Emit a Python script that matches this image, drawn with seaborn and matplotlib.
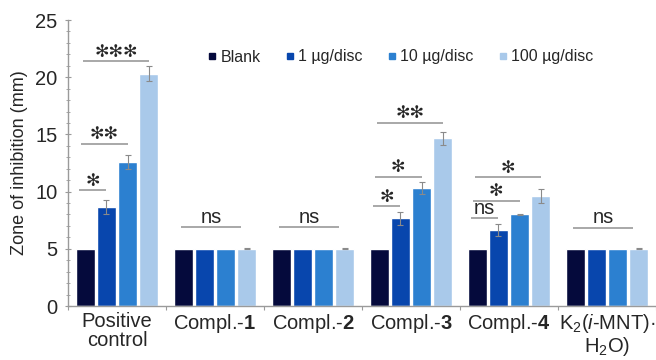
import numpy as np
import pandas as pd
import matplotlib
matplotlib.use("Agg")
import matplotlib.pyplot as plt
from matplotlib.ticker import MultipleLocator
from matplotlib.lines import Line2D
import seaborn as sns

# ---- data -------------------------------------------------------------
groups = ["Positive\ncontrol", r"Compl.-$\mathbf{1}$", r"Compl.-$\mathbf{2}$",
          r"Compl.-$\mathbf{3}$", r"Compl.-$\mathbf{4}$", "K$_2$($i$-MNT)·\nH$_2$O)"]
doses = ["Blank", "1 µg/disc", "10 µg/disc", "100 µg/disc"]

blank = [5.0, 5.0, 5.0, 5.0, 5.0, 5.0]
ug1 = [8.68, 5.0, 5.0, 7.66, 6.64, 5.0]
ug10 = [12.6, 5.0, 5.0, 10.3, 8.0, 5.0]
ug100 = [20.3, 5.0, 5.0, 14.66, 9.64, 5.0]

err_blank = [0.0, 0.0, 0.0, 0.0, 0.0, 0.0]
err_ug1 = [0.6, 0.0, 0.0, 0.55, 0.5, 0.0]
err_ug10 = [0.6, 0.0, 0.0, 0.55, 0.05, 0.0]
err_ug100 = [0.65, 0.05, 0.05, 0.55, 0.6, 0.05]

# significance brackets: group index, dose index compared with blank, label, height
sig_group = [0, 0, 0, 1, 2, 3, 3, 3, 4, 4, 4, 5]
sig_dose = [1, 2, 3, None, None, 1, 2, 3, 1, 2, 3, None]
sig_label = ["*", "**", "***", "ns", "ns", "*", "*", "**", "ns", "*", "*", "ns"]
sig_height = [10.1, 14.2, 21.4, 6.9, 6.9, 8.7, 11.3, 16.0, 7.7, 9.2, 11.25, 6.85]

palette = ["#050a3c", "#0846ad", "#2c80d0", "#a9c9ea"]

# ---- styling ----------------------------------------------------------
sns.set_style("white")
plt.rcParams["font.family"] = ["Liberation Sans", "DejaVu Sans"]
plt.rcParams["mathtext.fontset"] = "custom"
plt.rcParams["mathtext.rm"] = "Liberation Sans"
plt.rcParams["mathtext.it"] = "Liberation Sans:italic"
plt.rcParams["mathtext.bf"] = "Liberation Sans:bold"

df = pd.DataFrame({
    "group": np.repeat(groups, len(doses)),
    "dose": doses * len(groups),
    "value": np.column_stack([blank, ug1, ug10, ug100]).ravel(),
})
errs = np.column_stack([err_blank, err_ug1, err_ug10, err_ug100])

fig = plt.figure(figsize=(6.56, 3.6), dpi=100)
ax = fig.add_axes([68 / 656, 1 - 306 / 360, 588 / 656, 286 / 360])

sns.barplot(data=df, x="group", y="value", hue="dose", order=groups,
            hue_order=doses, palette=palette, width=0.86, gap=0.08,
            errorbar=None, saturation=1, ax=ax, legend=False)
bars = list(ax.containers)

# error bars placed on the drawn bars
for j, cont in enumerate(bars):
    for i, bar in enumerate(cont):
        e = errs[i, j]
        if e > 0:
            cx = bar.get_x() + bar.get_width() / 2
            ax.errorbar(cx, bar.get_height(), yerr=e, color="#8a8a8a",
                        lw=0.8, capsize=2, capthick=0.8, zorder=3)

# significance brackets
for g, d, lab, h in zip(sig_group, sig_dose, sig_label, sig_height):
    b0 = bars[0][g]
    w = b0.get_width()
    if d is None:
        x0 = b0.get_x() + 0.4 * w
        b3 = bars[3][g]
        x1 = b3.get_x() + 0.2 * w
    else:
        bt = bars[d][g]
        x0 = b0.get_x() + 0.15 * w + 0.12 * w * (d - 1)
        x1 = bt.get_x() + bt.get_width() / 2
    ax.plot([x0, x1], [h, h], color="#9a9a9a", lw=1.2, solid_capstyle="butt",
            zorder=4)
    xm = (x0 + x1) / 2
    if lab == "ns":
        ax.text(xm, h + 0.02, lab, ha="center", va="bottom", fontsize=14.5)
    else:
        ax.text(xm, h + 0.05, lab.replace("*", "✻"), ha="center", va="bottom",
                fontsize=12.5, family="DejaVu Sans")

ax.set_ylim(0, 25)
ax.set_xlim(-0.5, len(groups) - 0.5)
ax.yaxis.set_major_locator(MultipleLocator(5))
ax.yaxis.set_minor_locator(MultipleLocator(1))
ax.set_xticks(np.arange(len(groups) + 1) - 0.5, minor=True)
ax.tick_params(axis="y", which="major", direction="inout", length=5,
               width=0.8, color="#9a9a9a", labelsize=14.5, pad=5, left=True)
ax.tick_params(axis="y", which="minor", direction="inout", length=3,
               width=0.6, color="#9a9a9a", left=True)
ax.tick_params(axis="x", which="major", length=0, labelsize=14.5, pad=4)
ax.tick_params(axis="x", which="minor", direction="out", length=3,
               width=0.8, color="#9a9a9a", bottom=True)
for lbl in ax.get_xticklabels():
    lbl.set_linespacing(1.0)
for s in ["top", "right"]:
    ax.spines[s].set_visible(False)
for s in ["left", "bottom"]:
    ax.spines[s].set_color("#9a9a9a")
    ax.spines[s].set_linewidth(1.0)

ax.set_xlabel("")
ax.set_ylabel("Zone of inhibition (mm)", fontsize=13, labelpad=5)

handles = [Line2D([], [], ls="", marker="s", markersize=5, color=c) for c in palette]
leg = ax.legend(handles, doses, loc="center left",
                bbox_to_anchor=(208 / 656, 1 - 57 / 360),
                bbox_transform=fig.transFigure, ncol=4, frameon=False,
                fontsize=11.5, handlelength=0.5, handletextpad=0.3,
                columnspacing=1.55, borderaxespad=0, borderpad=0)

fig.savefig("out.png", dpi=100)
